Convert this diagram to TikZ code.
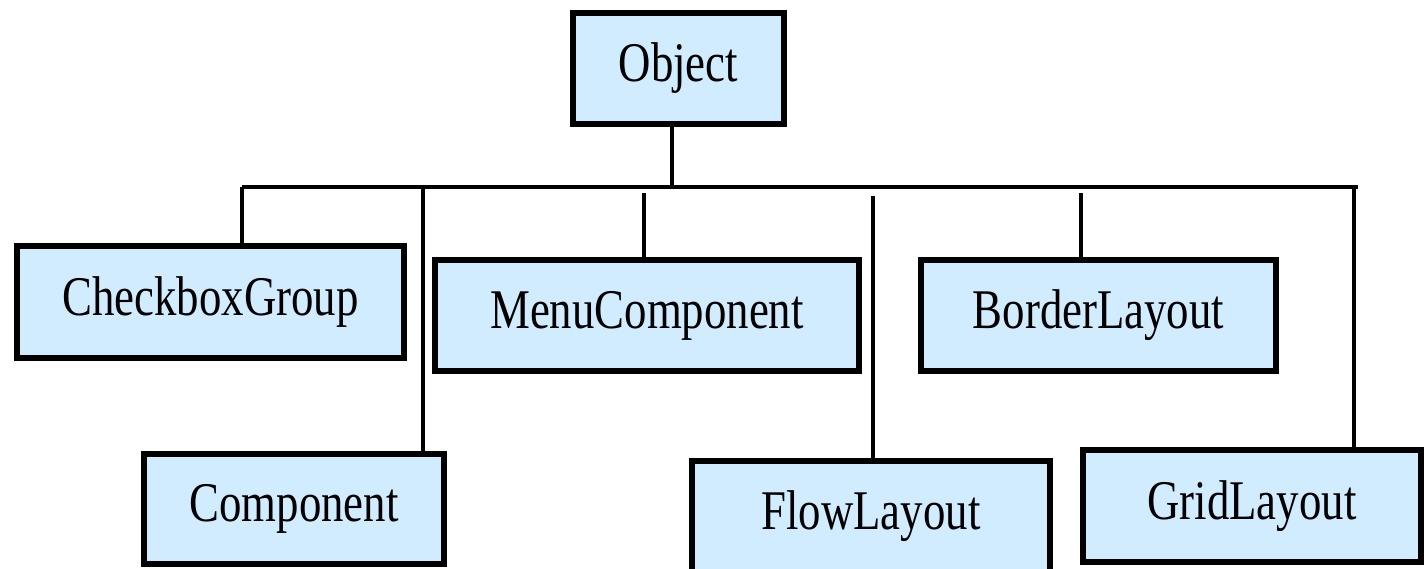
\documentclass[tikz,border=0pt]{standalone}
\usepackage{fontspec}
\newfontfamily\boxfont[FakeStretch=0.8]{Liberation Serif}
\definecolor{boxfill}{RGB}{210,236,255}
\tikzset{
  classbox/.style={draw=black, line width=6pt, fill=boxfill, inner sep=0pt,
    font=\boxfont\fontsize{56}{60}\selectfont, text=black},
  conn/.style={draw=black, line width=3.5pt}
}
\begin{document}
\begin{tikzpicture}[x=1pt,y=-1pt]
\useasboundingbox (0,0) rectangle (1424,568);
\begin{scope}
\clip (0,0) rectangle (1424,568);
\node[classbox, minimum width=211pt, minimum height=111pt] (obj) at (678.5,68.5) {Object};
\node[classbox, minimum width=387pt, minimum height=112pt] (cbg) at (210.5,302) {CheckboxGroup};
\node[classbox, minimum width=424pt, minimum height=111pt] (mc) at (647,315.5) {MenuComponent};
\node[classbox, minimum width=355pt, minimum height=111pt] (bl) at (1098.5,315.5) {BorderLayout};
\node[classbox, minimum width=300pt, minimum height=110pt] (comp) at (294,509) {Component};
\node[classbox, minimum width=358pt, minimum height=111pt] (fl) at (871,516.5) {FlowLayout};
\node[classbox, minimum width=338pt, minimum height=112pt] (gl) at (1252,506) {GridLayout};
\coordinate (busL) at (242,187);
\coordinate (busR) at (1358,187);
\coordinate (busO) at (672,187);
\coordinate (busC) at (423,187);
\coordinate (busG) at (1354,187);
\coordinate (mcT) at (644,193);
\coordinate (flT) at (873,196);
\coordinate (blT) at (1081,193);
\draw[conn] (busO |- obj.south) -- (busO);
\draw[conn] (busL) -- (busR);
\draw[conn] (busL) -- (busL |- cbg.north);
\draw[conn] (busC) -- (busC |- comp.north);
\draw[conn] (mcT) -- (mcT |- mc.north);
\draw[conn] (flT) -- (flT |- fl.north);
\draw[conn] (blT) -- (blT |- bl.north);
\draw[conn] (busG) -- (busG |- gl.north);
\end{scope}
\end{tikzpicture}
\end{document}
